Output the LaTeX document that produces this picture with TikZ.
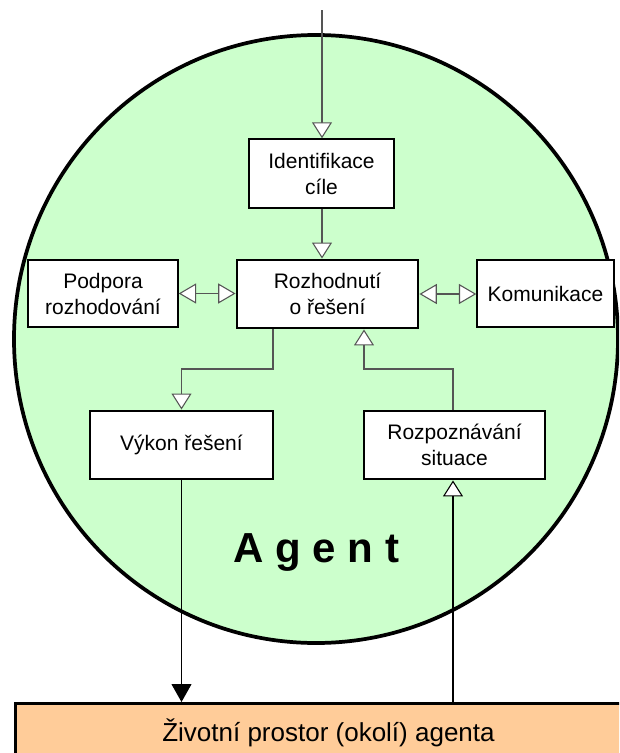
\documentclass[tikz,border=0pt]{standalone}
\usepackage{fontspec}
\setmainfont{Liberation Sans}
\usetikzlibrary{arrows.meta}
\definecolor{agentgreen}{HTML}{CCFFCC}
\definecolor{envorange}{HTML}{FFCC99}
\definecolor{wiregray}{HTML}{555555}

\begin{document}
\begin{tikzpicture}[x=0.75pt,y=-0.75pt,
  box/.style={draw=black, fill=white, line width=1.1pt, inner sep=0pt,
    align=center, font=\fontsize{15.75}{19.5}\selectfont},
  thickbox/.style={box, line width=2.2pt},
  wire/.style={draw=wiregray, line width=0.8pt},
  hollow/.style={-{Triangle[fill=white, length=12pt, width=15pt]}},
  twoway/.style={{Triangle[fill=white, length=13pt, width=15pt]}-{Triangle[fill=white, length=13pt, width=15pt]}},
  solidhead/.style={-{Triangle[length=13.5pt, width=15pt]}}
]
\useasboundingbox (0,0) rectangle (619,753);
\clip (0,0) rectangle (619,753);

% the agent
\draw[fill=agentgreen, line width=2.8pt] (316,339) ellipse [x radius=302, y radius=304];

% agent's environment
\node[thickbox, fill=envorange, anchor=north west, minimum width=469.5pt,
      minimum height=43.5pt, font=\fontsize{19.5}{23}\selectfont]
      (env) at (14,702) {Životní prostor (okolí) agenta};

% inner modules
\node[box, minimum width=108.75pt, minimum height=51.75pt] (ident) at (321.5,173.5) {Identifikace\\cíle};
\node[thickbox, minimum width=135.75pt, minimum height=51pt] (decide) at (327.5,294) {Rozhodnutí\\o řešení};
\node[box, minimum width=112.5pt, minimum height=50.25pt] (support) at (103,293.5) {Podpora\\rozhodování};
\node[box, minimum width=102.75pt, minimum height=50.25pt] (comm) at (545.5,293.5) {Komunikace};
\node[thickbox, minimum width=137.25pt, minimum height=51pt] (exec) at (181.5,445) {Výkon řešení};
\node[thickbox, minimum width=135.75pt, minimum height=51pt] (recog) at (454.5,445) {Rozpoznávání\\situace};

\node[anchor=base, font=\bfseries\fontsize{31.5}{36}\selectfont] (agentlabel) at (316.5,562) {A g e n t};

% routing points
\coordinate (feed) at (322,10);
\coordinate (c1) at (273,369);
\coordinate (c2) at (453,369);
\coordinate (c3) at (364,369);

% connectors
\draw[wire, hollow] (feed) -- (feed |- ident.north);
\draw[wire, hollow] (feed |- ident.south) -- (feed |- decide.north);
\draw[wire, twoway] (support.east) -- (support.east -| decide.west);
\draw[wire, twoway] (decide.east) -- (decide.east -| comm.west);
\draw[wire, hollow] (c1 |- decide.south) -- (c1) -| (exec.north);
\draw[wire, hollow] (c2 |- recog.north) -- (c2) -- (c3) -- (c3 |- decide.south);
\draw[black, line width=0.8pt, solidhead] (exec.south) -- (exec.south |- env.north);
\draw[black, line width=0.8pt, hollow] (c2 |- env.north) -- (c2 |- recog.south);
\end{tikzpicture}
\end{document}
